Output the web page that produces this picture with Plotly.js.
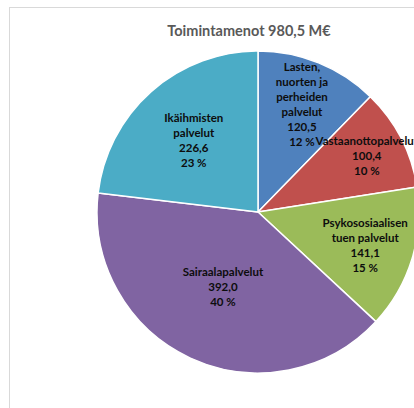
<!DOCTYPE html>
<html>
<head>
<meta charset="utf-8">
<script src="https://cdn.plot.ly/plotly-3.0.1.min.js"></script>
<style>
html, body { margin:0; padding:0; width:414px; height:408px; overflow:hidden; background:#fff; }
#frame { position:absolute; left:9px; top:7px; width:600px; height:600px; border-top:1px solid #d9d9d9; border-left:1px solid #d9d9d9; }
#chart { position:absolute; left:0; top:0; width:520px; height:408px; }
</style>
</head>
<body>
<div id="frame"></div>
<div id="chart"></div>
<script>
const categories = ["Lasten,<br>nuorten ja<br>perheiden<br>palvelut", "Vastaanottopalvelut", "Psykososiaalisen<br>tuen palvelut", "Sairaalapalvelut", "Ikäihmisten<br>palvelut"];
const values = [120.5, 100.4, 141.1, 392.0, 226.6];
const valueLabels = ["120,5", "100,4", "141,1", "392,0", "226,6"];
const percentLabels = ["12 %", "10 %", "15 %", "40 %", "23 %"];
const colors = ["#4F81BD", "#C0504D", "#9BBB59", "#8064A2", "#4BACC6"];

const texts = categories.map((c, i) => c + "<br>" + valueLabels[i] + "<br>" + percentLabels[i]);

const W = 520, H = 408;
const cx = 258, cy = 212, R = 161;

const trace = {
  type: "pie",
  labels: categories,
  values: values,
  text: texts,
  textinfo: "text",
  hoverinfo: "none",
  sort: false,
  direction: "clockwise",
  rotation: 0,
  textposition: "inside",
  insidetextorientation: "horizontal",
  insidetextfont: { family: "Lato, 'Open Sans', sans-serif", size: 11.5, color: "#0d0d0d", weight: "bold" },
  marker: { colors: colors, line: { color: "#ffffff", width: 1.5 } },
  domain: { x: [(cx - R) / W, (cx + R) / W], y: [(H - cy - R) / H, (H - cy + R) / H] },
  showlegend: false
};

const layout = {
  width: W, height: H,
  margin: { l: 0, r: 0, t: 0, b: 0 },
  paper_bgcolor: "rgba(0,0,0,0)",
  plot_bgcolor: "rgba(0,0,0,0)",
  uniformtext: { minsize: 11.5, mode: "show" },
  title: {
    text: "<b>Toimintamenot 980,5 M€</b>",
    font: { family: "Lato, 'Open Sans', sans-serif", size: 14.5, color: "#595959" },
    x: 249 / W, xref: "container", xanchor: "center",
    y: 1 - 31 / H, yref: "container", yanchor: "middle"
  },
  showlegend: false
};

Plotly.newPlot("chart", [trace], layout, { staticPlot: true, displayModeBar: false });
</script>
</body>
</html>
